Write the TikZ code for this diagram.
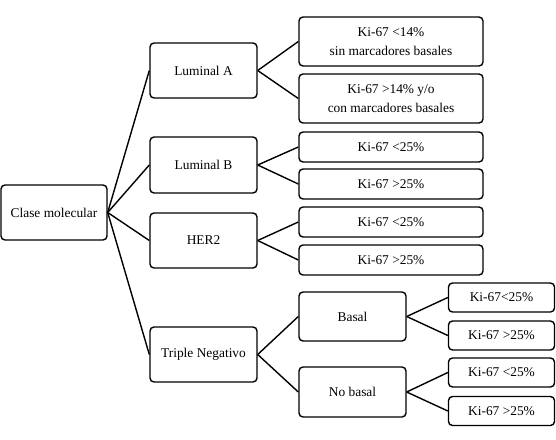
\documentclass[tikz,border=0pt]{standalone}
\usepackage{fontspec}
\setmainfont{Liberation Serif}
\usepackage{tikz}

\tikzset{
  caja/.style={draw,rounded corners=4pt,line width=1.4pt,inner sep=0pt,align=center,
    font=\fontsize{13.4}{19}\selectfont},
  conector/.style={line width=1.4pt}
}

\begin{document}
\begin{tikzpicture}[x=1pt,y=-1pt]
  \useasboundingbox (0,0) rectangle (556,439);
  \node[caja,minimum width=106pt,minimum height=55pt] (clase) at (54,212.5) {Clase molecular};
  \node[caja,minimum width=107pt,minimum height=55pt] (luma) at (203.5,70.5) {Luminal A};
  \node[caja,minimum width=107pt,minimum height=56pt] (lumb) at (203.5,165) {Luminal B};
  \node[caja,minimum width=107pt,minimum height=55pt] (her) at (203.5,240.5) {HER2};
  \node[caja,minimum width=107pt,minimum height=55pt] (tneg) at (203.5,354.5) {Triple Negativo};
  \node[caja,minimum width=184pt,minimum height=49pt] (luma-1) at (391,41.5) {Ki-67 <14\%\\sin marcadores basales};
  \node[caja,minimum width=184pt,minimum height=49pt] (luma-2) at (391,98.5) {Ki-67 >14\% y/o\\con marcadores basales};
  \node[caja,minimum width=184pt,minimum height=30pt] (lumb-1) at (391,147) {Ki-67 <25\%};
  \node[caja,minimum width=184pt,minimum height=30pt] (lumb-2) at (391,184) {Ki-67 >25\%};
  \node[caja,minimum width=184pt,minimum height=30pt] (her-1) at (391,222) {Ki-67 <25\%};
  \node[caja,minimum width=184pt,minimum height=30pt] (her-2) at (391,260) {Ki-67 >25\%};
  \node[caja,minimum width=107pt,minimum height=49pt] (basal) at (352.5,316.5) {Basal};
  \node[caja,minimum width=107pt,minimum height=50pt] (nobasal) at (352.5,392) {No basal};
  \node[caja,minimum width=106pt,minimum height=29pt] (basal-1) at (501.5,297.5) {Ki-67<25\%};
  \node[caja,minimum width=106pt,minimum height=29pt] (basal-2) at (501.5,335.5) {Ki-67 >25\%};
  \node[caja,minimum width=106pt,minimum height=29pt] (nobasal-1) at (501.5,372.5) {Ki-67 <25\%};
  \node[caja,minimum width=106pt,minimum height=29pt] (nobasal-2) at (501.5,411) {Ki-67 >25\%};
  \path[conector]
    (clase.east) edge (luma.west)
                 edge (lumb.west)
                 edge (her.west)
                 edge (tneg.west)
    (luma.east) edge (luma-1.west)
                edge (luma-2.west)
    (lumb.east) edge (lumb-1.west)
                edge (lumb-2.west)
    (her.east) edge (her-1.west)
               edge (her-2.west)
    (tneg.east) edge (basal.west)
                edge (nobasal.west)
    (basal.east) edge (basal-1.west)
                 edge (basal-2.west)
    (nobasal.east) edge (nobasal-1.west)
                   edge (nobasal-2.west);
\end{tikzpicture}
\end{document}
